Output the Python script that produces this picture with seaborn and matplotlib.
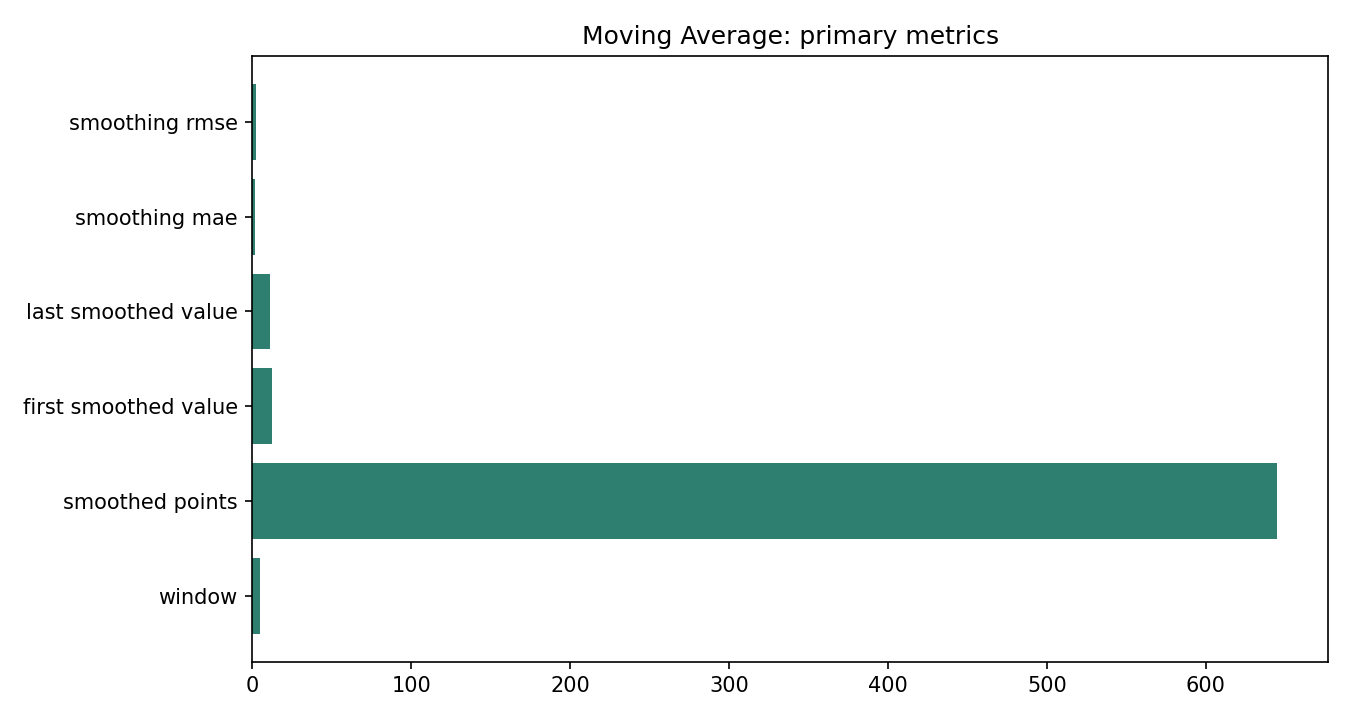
import matplotlib
matplotlib.use('Agg')
import matplotlib.pyplot as plt
import pandas as pd
import seaborn as sns

## Datos ----

metricas = ["smoothing rmse", "smoothing mae", "last smoothed value",
            "first smoothed value", "smoothed points", "window"]
valores = [2.5, 1.9, 11.3, 12.0, 645, 5]

datos = pd.DataFrame({"metrica": metricas, "valor": valores})

## Figura ----

fig, ax = plt.subplots(figsize=(9, 4.8), dpi=150)
fig.subplots_adjust(left=0.187, right=0.984, top=0.922, bottom=0.081)

sns.barplot(data=datos, x="valor", y="metrica", orient="h",
            color="#2e7f6f", saturation=1, width=0.8, ax=ax)

ax.set_ylim(5.69, -0.69)  # margenes como barh de matplotlib
ax.set_xlabel("")
ax.set_ylabel("")
ax.set_title("Moving Average: primary metrics")

fig.savefig("out.png", dpi=150)
